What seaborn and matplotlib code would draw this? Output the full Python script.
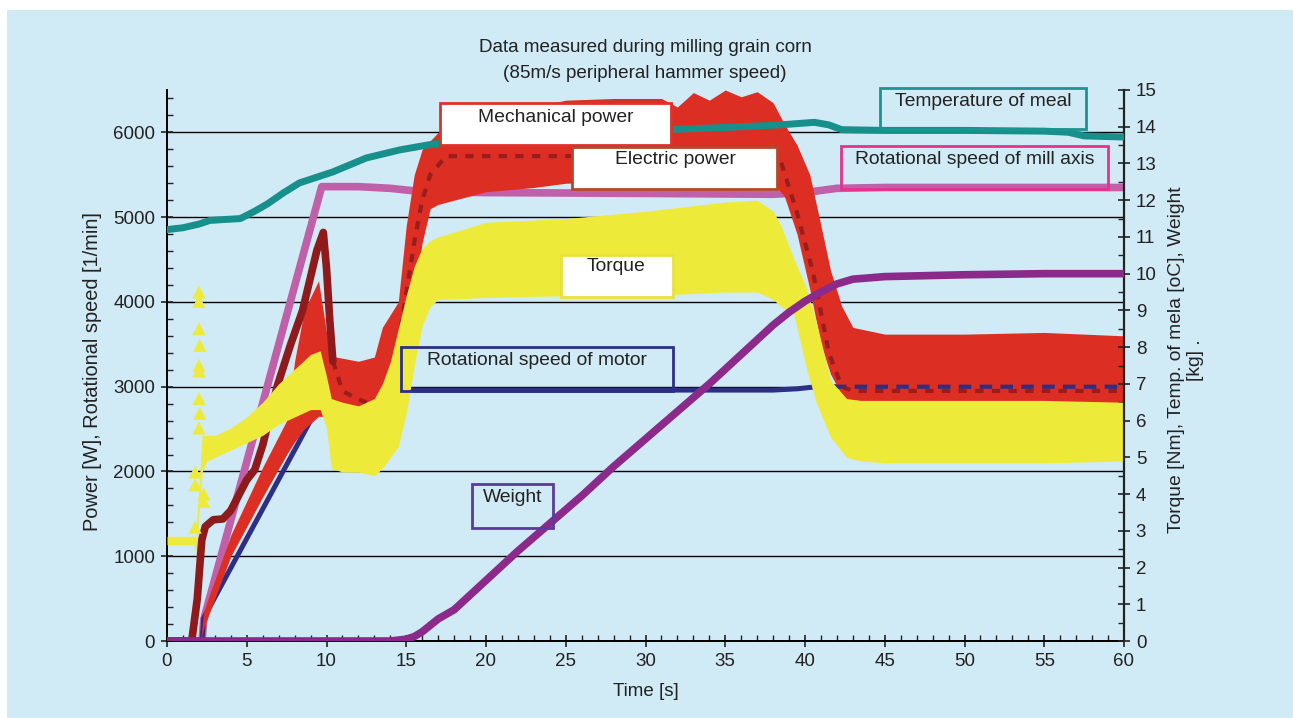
import matplotlib
matplotlib.use("Agg")
import matplotlib.pyplot as plt
from matplotlib.patches import Rectangle
from matplotlib.ticker import MultipleLocator
import pandas as pd
import seaborn as sns

# ---------------- measured data ----------------
# Rotational speed of mill axis [1/min] (left axis)
time_mill = [0, 2.2, 2.3, 9.7, 12, 14, 16, 20, 30, 38, 40, 42, 45, 60]
mill_speed = [0, 0, 250, 5360, 5360, 5340, 5300, 5290, 5280, 5270, 5290, 5340, 5350, 5350]

# Rotational speed of motor [1/min] (left axis)
time_motor = [0, 2.2, 2.3, 4.6, 9.0, 10.1, 12, 14, 15, 20, 30, 38, 39.5, 40.5, 42, 50, 60]
motor_speed = [0, 0, 270, 1070, 2600, 2990, 3010, 3000, 2960, 2960, 2960, 2960, 2975, 2995, 3000, 3000, 3000]

# Electric power [W] (left axis)
time_elec = [0, 1.55, 1.9, 2.18, 2.4, 2.9, 3.5, 4.0, 5.0, 5.5, 6.0, 6.9, 7.7, 8.5, 9.4, 9.8,
             10.0, 10.2, 10.4, 11.0, 12.0, 13.0, 13.5, 14.5, 15.0, 15.5, 16.0, 16.5, 17.5,
             20, 25, 30, 35, 38.5, 39.5, 40.5, 41.5, 42.3, 43, 50, 60]
elec_power = [0, 0, 500, 1190, 1350, 1430, 1440, 1540, 1900, 2020, 2310, 3000, 3470, 3900, 4610, 4820,
              4400, 3800, 3300, 2950, 2850, 2780, 2850, 3500, 4100, 4700, 5200, 5500, 5720,
              5720, 5720, 5720, 5700, 5650, 5050, 4350, 3400, 3000, 2950, 2950, 2950]

# Mechanical power [W] (left axis): lower / upper envelope of the scatter
time_mech = [0, 2.1, 2.3, 4.0, 6.0, 7.5, 8.0, 8.6, 9.5, 10.2, 10.6, 12.0, 13.0, 13.5, 14.0, 14.5,
             15.0, 15.5, 16.0, 16.5, 17.0, 20.0, 23.0, 25.0, 28.0, 31.0, 32.0, 33.0, 34.0, 35.0,
             36.0, 37.0, 38.0, 38.7, 39.5, 40.3, 41.0, 41.6, 42.3, 43.0, 45.0, 50.0, 55.0, 60.0]
mech_low = [0, 0, 150, 1000, 1700, 2200, 2350, 2500, 2650, 2650, 2650, 2700, 2650, 2700, 2850, 3100,
            3500, 4100, 4700, 5100, 5150, 5300, 5350, 5400, 5420, 5450, 5450, 5450, 5450, 5450,
            5450, 5430, 5400, 5250, 4800, 4150, 3500, 3150, 2900, 2800, 2800, 2820, 2800, 2800]
mech_high = [0, 0, 350, 1250, 2050, 2600, 3300, 3900, 4250, 3400, 3350, 3300, 3350, 3700, 3850, 4000,
             4900, 5500, 5800, 5900, 6000, 6150, 6300, 6380, 6400, 6400, 6300, 6470, 6380, 6500,
             6420, 6480, 6350, 6100, 5850, 5500, 4900, 4370, 3950, 3700, 3620, 3620, 3640, 3600]

# Torque [Nm] (right axis): lower / upper envelope of the scatter
time_torque = [0, 1.7, 1.8, 2.2, 2.5, 3.0, 4.0, 5.0, 6.0, 7.0, 8.0, 8.5, 9.0, 9.6, 10.0, 10.3,
               11.0, 12.0, 13.0, 13.5, 14.0, 14.5, 15.0, 15.5, 16.0, 16.5, 17.0, 20, 25, 30, 35,
               37, 38, 38.5, 39.3, 40.1, 40.7, 41.6, 42.6, 43.5, 45, 50, 55, 60]
torque_low = [2.62, 2.62, 2.35, 4.6, 4.9, 5.0, 5.2, 5.4, 5.6, 5.9, 6.1, 6.2, 6.3, 6.3, 5.8, 4.7,
              4.6, 4.6, 4.5, 4.7, 5.0, 5.3, 6.2, 7.5, 8.6, 9.1, 9.3, 9.35, 9.4, 9.4, 9.5,
              9.5, 9.3, 9.1, 8.9, 7.4, 6.5, 5.55, 5.0, 4.9, 4.85, 4.85, 4.85, 4.9]
torque_high = [2.85, 2.85, 2.8, 5.6, 5.6, 5.6, 5.8, 6.1, 6.5, 7.0, 7.4, 7.6, 7.8, 7.9, 7.2, 6.6,
               6.5, 6.4, 6.6, 7.0, 7.6, 8.5, 9.4, 10.2, 10.7, 10.9, 11.0, 11.4, 11.5, 11.7, 11.95,
               12.0, 11.7, 11.3, 10.4, 9.6, 8.7, 7.1, 6.6, 6.55, 6.55, 6.55, 6.55, 6.5]
# isolated torque readings during start-up
torque_spike_t = [2.0, 2.0, 2.0, 2.05, 2.0, 2.0, 2.0, 2.05, 2.0, 1.76, 1.76, 1.76, 2.3, 2.3]
torque_spike_v = [9.5, 9.25, 8.5, 8.05, 7.5, 7.35, 6.6, 6.2, 5.8, 3.1, 4.25, 4.6, 4.0, 3.8]

# Temperature of meal [oC] (right axis)
time_temp = [0, 1, 2, 2.7, 4.6, 5.5, 6.3, 7.3, 8.3, 10.4, 12.5, 14.6, 16.7, 20, 25, 30, 35,
             38.4, 40.6, 41.5, 42.3, 45, 50, 55, 56.5, 57.5, 60]
temp_meal = [11.2, 11.25, 11.35, 11.45, 11.5, 11.7, 11.9, 12.2, 12.47, 12.77, 13.15, 13.37, 13.53,
             13.65, 13.8, 13.9, 13.98, 14.05, 14.12, 14.05, 13.92, 13.9, 13.9, 13.88, 13.85, 13.75, 13.72]

# Weight [kg] (right axis)
time_weight = [0, 14, 15, 15.5, 16, 17, 18, 20, 22, 24, 26, 28, 30, 32, 34, 36, 38, 39, 40, 41,
               42, 43, 45, 50, 55, 60]
weight = [0, 0, 0.05, 0.12, 0.25, 0.6, 0.85, 1.65, 2.45, 3.2, 3.95, 4.75, 5.5, 6.25, 7.0, 7.8,
          8.6, 8.95, 9.25, 9.5, 9.72, 9.85, 9.92, 9.97, 10.0, 10.0]

# ---------------- styling ----------------
BG = "#d0eaf6"
C_MECH = "#dd2e24"
C_ELEC = "#8e1a1c"
C_TORQUE = "#eeea3a"
C_MOTOR = "#2b2f86"
C_MILL = "#c060a8"
C_TEMP = "#178f8a"
C_WEIGHT = "#8b2a8b"
TXT = "#222222"

sns.set_theme(style="ticks")
plt.rcParams["font.family"] = ["Liberation Sans", "DejaVu Sans"]

W, H = 1293, 718
fig = plt.figure(figsize=(W / 100, H / 100), dpi=100, facecolor="white")


def fx(px):
    return px / W


def fy(py):
    return 1 - py / H


fig.add_artist(Rectangle((fx(7), 0), 1 - fx(7), fy(10), transform=fig.transFigure,
                         facecolor=BG, edgecolor="none", zorder=-10))

ax = fig.add_axes([fx(167), fy(641), fx(1124) - fx(167), fy(90) - fy(641)])
ax.set_facecolor("none")
ax2 = ax.twinx()
ax2.set_facecolor("none")

# ---- left-axis series ----
ax.fill_between(time_mech, mech_low, mech_high, color=C_MECH, lw=0, zorder=4)
sns.lineplot(x=time_mill, y=mill_speed, ax=ax, color=C_MILL, lw=5.5, zorder=3,
             solid_capstyle="round")
sns.lineplot(x=time_motor, y=motor_speed, ax=ax, color=C_MOTOR, lw=3.6, zorder=3.5)

motor_df = pd.DataFrame({"t": time_motor, "v": motor_speed})
late_motor = motor_df[motor_df["t"] >= 40]
sns.lineplot(data=late_motor, x="t", y="v", ax=ax, color=C_MOTOR, lw=3.0, zorder=5,
             linestyle=(0, (3, 2)))

elec_df = pd.DataFrame({"t": time_elec, "v": elec_power})
early_elec = elec_df[elec_df["t"] <= 10.4]
late_elec = elec_df[elec_df["t"] >= 10.4]
sns.lineplot(data=early_elec, x="t", y="v", ax=ax, color=C_ELEC, lw=5.5, zorder=6,
             solid_capstyle="round")
sns.lineplot(data=late_elec, x="t", y="v", ax=ax, color=C_ELEC, lw=3.0, zorder=6,
             linestyle=(0, (2, 2)), alpha=0.85)

# ---- right-axis series ----
ax2.fill_between(time_torque, torque_low, torque_high, color=C_TORQUE, lw=0, zorder=2)
sns.scatterplot(x=torque_spike_t, y=torque_spike_v, ax=ax2, marker="^", s=90,
                color=C_TORQUE, edgecolor="none", zorder=2)
sns.lineplot(x=time_weight, y=weight, ax=ax2, color=C_WEIGHT, lw=5.5, zorder=3,
             solid_capstyle="round")
sns.lineplot(x=time_temp, y=temp_meal, ax=ax2, color=C_TEMP, lw=5.0, zorder=4)

# ---- axes, ticks, grid ----
ax.set_xlim(0, 60)
ax.set_ylim(0, 6500)
ax2.set_ylim(0, 15)
ax.xaxis.set_major_locator(MultipleLocator(5))
ax.xaxis.set_minor_locator(MultipleLocator(1))
ax.yaxis.set_major_locator(MultipleLocator(1000))
ax.yaxis.set_minor_locator(MultipleLocator(200))
ax2.yaxis.set_major_locator(MultipleLocator(1))
ax2.yaxis.set_minor_locator(MultipleLocator(0.5))
ax.set_yticks(range(0, 6001, 1000))

ax.set_axisbelow(True)
ax.grid(axis="y", which="major", color="black", lw=1.0)
ax.grid(axis="x", visible=False)

for a in (ax, ax2):
    a.tick_params(which="major", direction="inout", length=9, width=1.2, colors="#222222",
                  labelsize=13.5, labelcolor=TXT, pad=4)
    a.tick_params(which="minor", direction="in", length=4, width=1.0, colors="#222222")
ax.tick_params(axis="y", which="both", right=False)
ax2.tick_params(axis="y", which="both", left=False)

for s in ("top", "right"):
    ax.spines[s].set_visible(False)
for s in ("top", "left", "bottom"):
    ax2.spines[s].set_visible(False)
ax.spines["left"].set_color("black")
ax.spines["left"].set_linewidth(1.4)
ax.spines["bottom"].set_color("black")
ax.spines["bottom"].set_linewidth(1.4)
ax2.spines["right"].set_color("#222222")
ax2.spines["right"].set_linewidth(1.6)

ax.set_xlabel("Time [s]", fontsize=13.5, color=TXT)
ax.xaxis.set_label_coords(0.5, (641 - 691) / 551)
ax.xaxis.label.set_va("center")
ax.set_ylabel("Power [W], Rotational speed [1/min]", fontsize=14.4, color=TXT)
ax.yaxis.set_label_coords((93 - 167) / 957, (641 - 372) / 551)
ax.yaxis.label.set_va("center")
ax2.set_ylabel("Torque [Nm], Temp. of mela [oC], Weight\n[kg] .", fontsize=13.9, color=TXT,
               multialignment="center", linespacing=1.1)
ax2.yaxis.set_label_coords((1186 - 167) / 957, (641 - 360) / 551)
ax2.yaxis.label.set_va("center")
ax2.yaxis.label.set_ha("center")

# ---- title ----
fig.text(fx(645), fy(48), "Data measured during milling grain corn", ha="center", va="center",
         fontsize=13.6, color=TXT)
fig.text(fx(645), fy(73), "(85m/s peripheral hammer speed)", ha="center", va="center",
         fontsize=13.6, color=TXT)

# ---- series labels in framed boxes ----
boxes = [
    # label, left, top, right, bottom, text centre x, text centre y, edge colour, face
    ("Mechanical power", 440, 103, 671, 145, 556, 117, "#e0302a", "white"),
    ("Electric power", 572, 147, 777, 189, 675, 160, "#b5472a", "white"),
    ("Torque", 561, 255, 673, 297, 616, 267, "#e8e23a", "white"),
    ("Rotational speed of motor", 401, 347, 673, 391, 537, 361, "#2b2f86", "none"),
    ("Temperature of meal", 880, 88, 1086, 129, 983, 102, "#1a9590", "none"),
    ("Rotational speed of mill axis", 841, 146, 1108, 189, 975, 160, "#e8308c", "none"),
    ("Weight", 472, 484, 553, 528, 513, 498, "#5b3a9b", "none"),
]
for label, l, t, r, b, tx, ty, ec, fc in boxes:
    fig.add_artist(Rectangle((fx(l), fy(b)), fx(r) - fx(l), fy(t) - fy(b),
                             transform=fig.transFigure, facecolor=fc, edgecolor=ec,
                             lw=2.0, zorder=5))
    fig.text(fx(tx), fy(ty), label, ha="center", va="center", fontsize=13.9, color=TXT, zorder=6)

fig.savefig("out.png", dpi=100, facecolor=fig.get_facecolor())
